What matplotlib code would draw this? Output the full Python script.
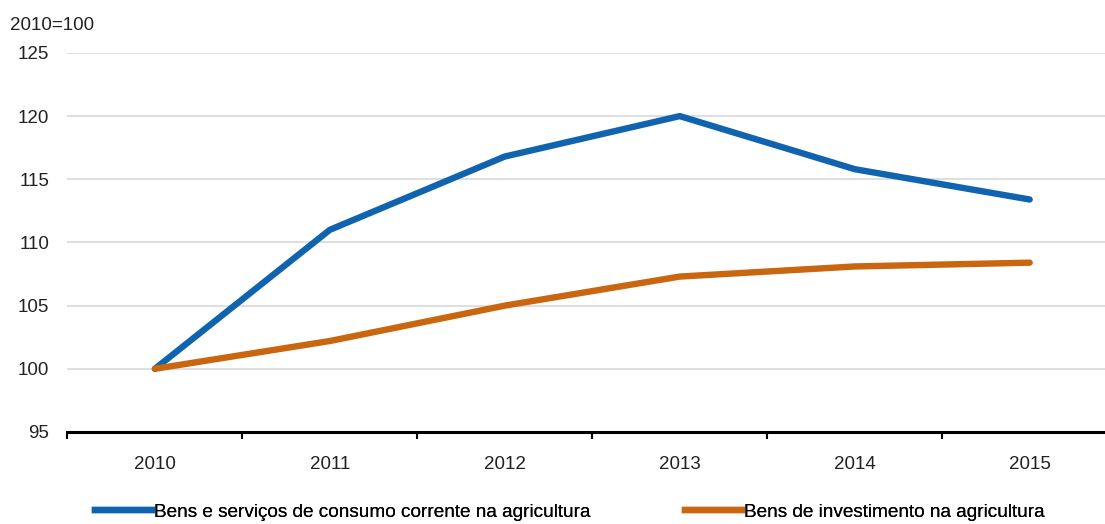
import matplotlib
matplotlib.use("Agg")
import matplotlib.pyplot as plt

years = [2010, 2011, 2012, 2013, 2014, 2015]
consumo = [100.0, 111.0, 116.8, 120.0, 115.8, 113.4]
investimento = [100.0, 102.2, 105.0, 107.3, 108.1, 108.4]
labels = ["Bens e serviços de consumo corrente na agricultura",
          "Bens de investimento na agricultura"]
yticks = [95, 100, 105, 110, 115, 120, 125]

plt.rcParams["font.family"] = ["Liberation Sans", "DejaVu Sans"]

fig = plt.figure(figsize=(11.05, 5.24), dpi=100)
ax = fig.add_axes([0.061, 0.1756, 0.95, 0.7234])

blue, orange = "#1063ae", "#c9660f"
lw = 4.6
ax.plot(years, consumo, color=blue, lw=lw, solid_capstyle="round", solid_joinstyle="round", zorder=3)
ax.plot(years, investimento, color=orange, lw=lw, solid_capstyle="round", solid_joinstyle="round", zorder=3)

ax.set_xlim(2009.5, 2015.5)
ax.set_ylim(95, 125)
ax.set_yticks(yticks)
ax.set_xticks(years)
ax.set_xticks([y + 0.5 for y in [2009] + years], minor=True)
ax.grid(axis="y", color="#d9d9d9", lw=1.2)
ax.set_axisbelow(True)
for s in ["top", "right", "left"]:
    ax.spines[s].set_visible(False)
ax.spines["bottom"].set_linewidth(2.2)
ax.spines["bottom"].set_zorder(4)
ax.tick_params(axis="y", length=0, labelsize=13.5, pad=13, colors="#222222")
ax.tick_params(axis="x", which="major", length=0, labelsize=13.5, pad=17, colors="#222222")
ax.tick_params(axis="x", which="minor", length=5, width=1.5, direction="out")

fig.text(0.009, 0.952, "2010=100", fontsize=13.5, color="#222222", va="center")

# two legend entries placed like the reference
for line_color, label, x0 in [(blue, labels[0], 95 / 1105), (orange, labels[1], 685 / 1105)]:
    leg = fig.legend([plt.Line2D([], [], color=line_color, lw=lw)], [label],
                     loc="center left", bbox_to_anchor=(x0, 1 - 512 / 524), frameon=False,
                     fontsize=13.7, handlelength=3.0, handletextpad=0.1, borderpad=0,
                     borderaxespad=0)
    fig.add_artist(leg)

fig.savefig("out.png", dpi=100)
